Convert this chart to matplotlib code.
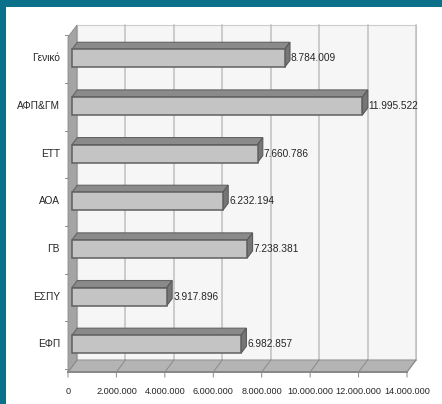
import matplotlib
matplotlib.use('Agg')
import matplotlib.pyplot as plt
from matplotlib.patches import Polygon, Rectangle

# ---- data ----
categories = ['ΕΦΠ', 'ΕΣΠΥ', 'ΓΒ', 'ΑΟΑ', 'ΕΤΤ', 'ΑΦΠ&ΓΜ', 'Γενικό']
values = [6982857, 3917896, 7238381, 6232194, 7660786, 11995522, 8784009]
value_labels = ['6.982.857', '3.917.896', '7.238.381', '6.232.194',
                '7.660.786', '11.995.522', '8.784.009']
xticks = [0, 2000000, 4000000, 6000000, 8000000, 10000000, 12000000, 14000000]
xtick_labels = ['0', '2.000.000', '4.000.000', '6.000.000', '8.000.000',
                '10.000.000', '12.000.000', '14.000.000']

plt.rcParams['font.family'] = ['Liberation Sans', 'DejaVu Sans']

W, H = 442, 404
fig = plt.figure(figsize=(W / 100, H / 100), dpi=100)
fig.patch.set_facecolor('#0b7089')
fig.add_artist(Rectangle((6 / W, 0), (W - 6) / W, (H - 7) / H,
                         transform=fig.transFigure, facecolor='white',
                         edgecolor='none', zorder=0))

# front plane of the 3D box, in pixels from top-left
L, R, B, T = 68, 407, 372, 37
ax = fig.add_axes([L / W, (H - B) / H, (R - L) / W, (B - T) / H])
XMAX = 14000000
YLO, YHI = -0.5, 6.53
ax.set_xlim(0, XMAX)
ax.set_ylim(YLO, YHI)
ax.axis('off')

sx = XMAX / (R - L)          # data units per pixel (x)
sy = (YHI - YLO) / (B - T)   # data units per pixel (y)

# depth of the box (oblique projection)
dX, dY = 9 * sx, 12 * sy

# back wall
ax.add_patch(Polygon([(dX, YLO + dY), (XMAX + dX, YLO + dY),
                      (XMAX + dX, YHI + dY), (dX, YHI + dY)],
                     closed=True, facecolor='#f6f6f6', edgecolor='#cccccc',
                     lw=0.8, clip_on=False, zorder=1))
# back wall gridlines
for xt in xticks[1:]:
    ax.plot([xt + dX, xt + dX], [YLO + dY, YHI + dY], color='#c0c0c0',
            lw=1.1, clip_on=False, zorder=1.5)

# floor
ax.add_patch(Polygon([(0, YLO), (XMAX, YLO), (XMAX + dX, YLO + dY), (dX, YLO + dY)],
                     closed=True, facecolor='#b4b4b4', edgecolor='#969696',
                     lw=0.8, clip_on=False, zorder=2))
# floor lines and ticks
for xt in xticks:
    ax.plot([xt + dX, xt, xt], [YLO + dY, YLO, YLO - 5 * sy], color='#8a8a8a',
            lw=0.7, clip_on=False, zorder=2.2)
ax.plot([0, XMAX], [YLO, YLO], color='#888888', lw=1.4, clip_on=False, zorder=2.3)

# left wall
ax.add_patch(Polygon([(0, YLO), (dX, YLO + dY), (dX, YHI + dY), (0, YHI)],
                     closed=True, facecolor='#a4a4a4', edgecolor='#888888',
                     lw=0.6, clip_on=False, zorder=3))
# small ticks at category boundaries
for i in range(len(categories) + 1):
    yb = i - 0.5 + 3 * sy
    ax.plot([-3 * sx, 0], [yb, yb], color='#8c8c8c', lw=0.7, clip_on=False, zorder=3)

# bars
ox1, oy1 = 4 * sx, 4 * sy     # front face offset
ox2, oy2 = 9.3 * sx, 11 * sy  # back face offset
h = 18 * sy
ys = list(range(len(categories)))
ax.barh([y + oy1 for y in ys], values, height=h, left=ox1,
        color='#c4c4c4', edgecolor='#606060', linewidth=1.1, zorder=5)
for y, v in zip(ys, values):
    top = y + h / 2
    ax.add_patch(Polygon([(ox1, top + oy1), (v + ox1, top + oy1),
                          (v + ox2, top + oy2), (ox2, top + oy2)],
                         closed=True, facecolor='#8a8a8a', edgecolor='#646464',
                         lw=0.8, zorder=4.5, clip_on=False))
    ax.add_patch(Polygon([(v + ox1, y - h / 2 + oy1), (v + ox1, top + oy1),
                          (v + ox2, top + oy2), (v + ox2, y - h / 2 + oy2)],
                         closed=True, facecolor='#767676', edgecolor='#5a5a5a',
                         lw=0.8, zorder=4.6, clip_on=False))

# value labels
for y, v, lab in zip(ys, values, value_labels):
    ax.text(v + ox2 + 1 * sx, y + oy1, lab, ha='left', va='center',
            fontsize=7.3, color='#262626', zorder=6, clip_on=False)

# category labels
for y, lab in zip(ys, categories):
    ax.text(-8 * sx, y + oy1, lab, ha='right', va='center',
            fontsize=7.3, color='#262626', clip_on=False)

# x tick labels
for xt, lab in zip(xticks, xtick_labels):
    ax.text(xt, YLO - 20 * sy, lab, ha='center', va='center',
            fontsize=6.6, color='#262626', clip_on=False)

fig.savefig('out.png', dpi=100)
